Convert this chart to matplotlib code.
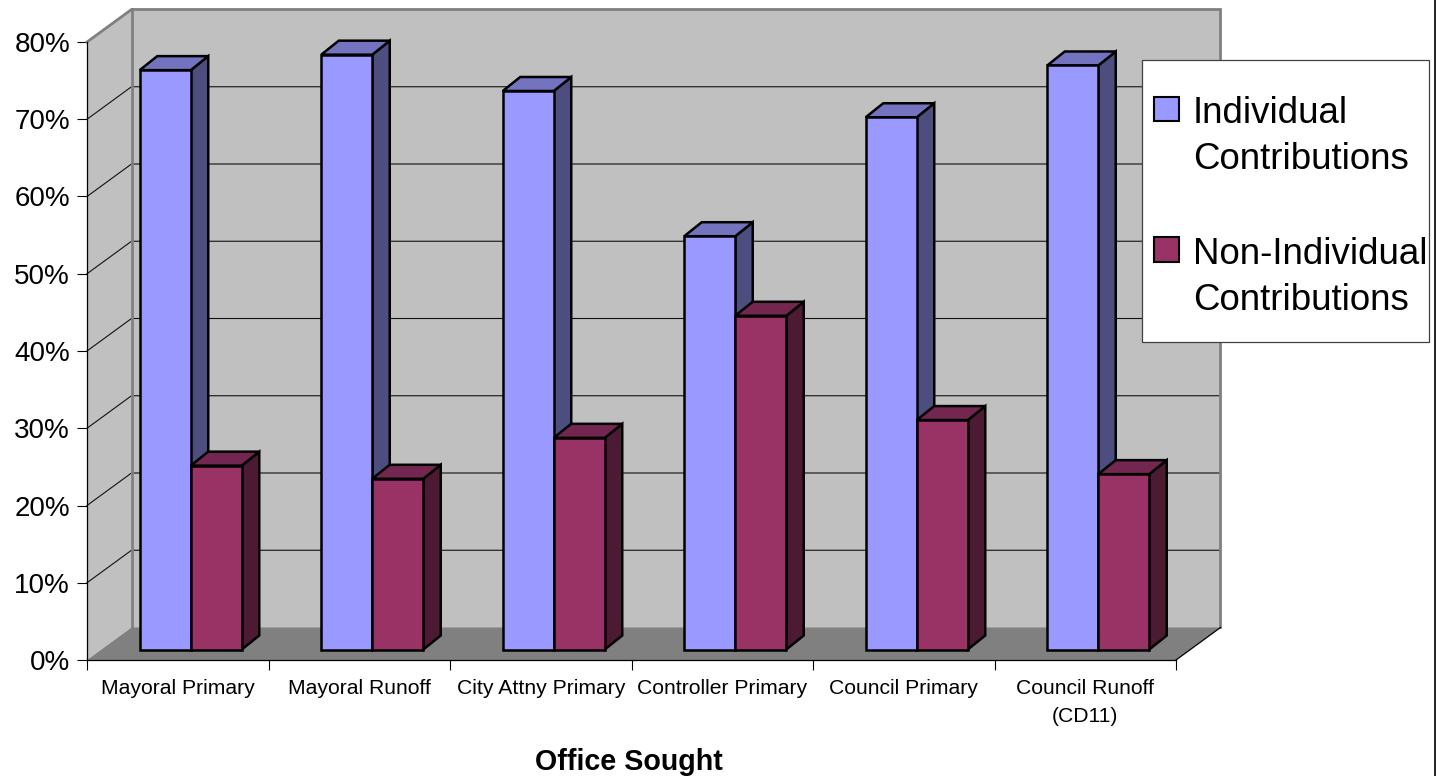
import matplotlib
matplotlib.use("Agg")
import matplotlib.pyplot as plt
from matplotlib.patches import Polygon, Rectangle

plt.rcParams['font.family'] = ['Liberation Sans', 'DejaVu Sans']

categories = ["Mayoral Primary", "Mayoral Runoff", "City Attny Primary",
              "Controller Primary", "Council Primary", "Council Runoff\n(CD11)"]
individual = [75.0, 77.0, 72.3, 53.5, 68.9, 75.6]
non_individual = [23.8, 22.1, 27.4, 43.2, 29.7, 22.7]
series_names = ["Individual\nContributions", "Non-Individual\nContributions"]
y_ticks = [0, 10, 20, 30, 40, 50, 60, 70, 80]
x_title = "Office Sought"

W, H = 1437, 776
fig = plt.figure(figsize=(W / 100, H / 100), dpi=100, facecolor="white")
L, R, B, T = 87, 1176, 660, 42
ax = fig.add_axes([L / W, 1 - B / H, (R - L) / W, (B - T) / H])
ax.set_xlim(0, 6)
ax.set_ylim(0, 80)
ax.patch.set_visible(False)

px = 6 / (R - L)          # data units per pixel, x
py = 80 / (B - T)         # data units per pixel, y
wx, wy = 44.5 * px, 32.5 * py   # depth of the floor
dx, dy = 17.5 * px, 14 * py     # depth of a bar
bar_w = 51 * px
base = 10.5 * py
shift = 13 * px

WALL, FLOOR, EDGE = "#C0C0C0", "#808080", "#808080"
n = len(categories)

def poly(pts, fc, ec="none", lw=0, z=1):
    ax.add_patch(Polygon(pts, closed=True, fc=fc, ec=ec, lw=lw, zorder=z,
                         clip_on=False, joinstyle="miter"))

# walls and floor
poly([(wx, wy), (n + wx, wy), (n + wx, 80 + wy), (wx, 80 + wy)], WALL)
poly([(0, 0), (wx, wy), (wx, 80 + wy), (0, 80)], WALL)
poly([(0, 0), (n, 0), (n + wx, wy), (wx, wy)], FLOOR)

# gridlines
for v in y_ticks[1:-1]:
    ax.plot([0, wx, n + wx], [v, v + wy, v + wy], color="#111111", lw=0.8,
            zorder=2, clip_on=False, solid_joinstyle="miter")

# wall edges
ax.plot([0, wx, n + wx, n + wx], [80, 80 + wy, 80 + wy, wy], color=EDGE, lw=2.0,
        zorder=2, clip_on=False, solid_joinstyle="miter")
ax.plot([wx, wx], [wy, 80 + wy], color=EDGE, lw=2.0, zorder=2, clip_on=False)
ax.plot([n, n + wx], [0, wy], color="black", lw=0.9, zorder=2, clip_on=False)

# bars
def bar3d(x0, v, front, side, top, z):
    x1, y0, y1 = x0 + bar_w, base, base + v
    kw = dict(ec="black", lw=1.8, z=z)
    poly([(x1, y0), (x1 + dx, y0 + dy), (x1 + dx, y1 + dy), (x1, y1)], side, **kw)
    poly([(x0, y1), (x1, y1), (x1 + dx, y1 + dy), (x0 + dx, y1 + dy)], top, **kw)
    poly([(x0, y0), (x1, y0), (x1, y1), (x0, y1)], front, **kw)

BLUE = ("#9999FF", "#4D4D80", "#7373BF")
RED = ("#993366", "#4D1A33", "#732650")
for i in range(n):
    mid = i + 0.5 + shift
    bar3d(mid - bar_w, individual[i], *BLUE, 3 + i * 0.01)
    bar3d(mid, non_individual[i], *RED, 3 + i * 0.01 + 0.005)

# axes
for s in ("top", "right"):
    ax.spines[s].set_visible(False)
for s in ("left", "bottom"):
    ax.spines[s].set_linewidth(0.9)
    ax.spines[s].set_zorder(2.5)
ax.set_yticks(y_ticks)
ax.set_yticklabels([f"{v}%" for v in y_ticks], fontsize=20)
ax.tick_params(axis="y", length=7.2, width=0.8, pad=5)
ax.set_xticks(range(n + 1))
ax.set_xticklabels([""] * (n + 1))
ax.tick_params(axis="x", which="major", length=7.2, width=0.8)
ax.set_xticks([i + 0.5 for i in range(n)], minor=True)
ax.set_xticklabels(categories, minor=True, fontsize=15.2)
ax.tick_params(axis="x", which="minor", length=0, pad=14)
for lbl in ax.get_xticklabels(minor=True):
    lbl.set_linespacing(1.6)
ax.set_xlabel(x_title, fontsize=20.6, fontweight="bold")
ax.xaxis.set_label_coords(0.498, -0.142)

# legend
def fx(p): return p / W
def fy(p): return 1 - p / H
fig.add_artist(Rectangle((fx(1142), fy(342)), 287 / W, 282 / H, transform=fig.transFigure,
                         fc="white", ec="#404040", lw=0.9, zorder=10))
handles = [Rectangle((0, 0), 1, 1, fc=BLUE[0], ec="black", lw=1.5),
           Rectangle((0, 0), 1, 1, fc=RED[0], ec="black", lw=1.5)]
fs = 26.4
leg = fig.legend(handles, series_names, loc="upper left", bbox_to_anchor=(fx(1154), fy(96)),
                 bbox_transform=fig.transFigure, frameon=False, fontsize=fs, borderpad=0,
                 borderaxespad=0, handlelength=25 / 36.7, handleheight=24 / 36.7,
                 handletextpad=14 / 36.7, labelspacing=1.62)
leg.set_zorder(11)
for t in leg.get_texts():
    t.set_linespacing(1.42)
for h in leg.legend_handles:
    h.set_y(h.get_y() + 20.5)

# page edge at right
fig.add_artist(plt.Line2D([fx(1435)] * 2, [0, 1], transform=fig.transFigure, color="#222222", lw=1.4))

fig.savefig("out.png", dpi=100)
